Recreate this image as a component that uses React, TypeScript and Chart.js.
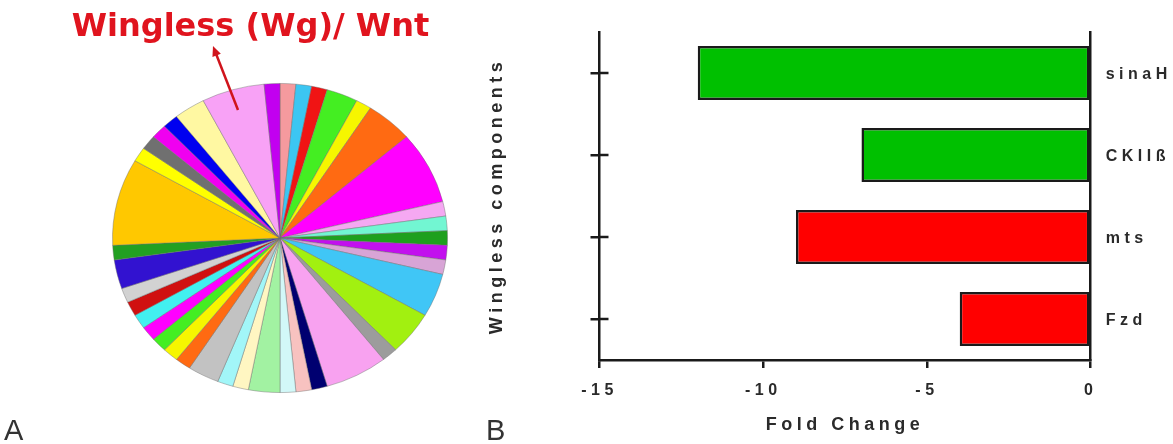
import React, { useEffect, useRef } from "react";
import { Chart, registerables } from "chart.js";

Chart.register(...registerables);

// ---------- Panel A: pie ----------
const pieTitle = "Wingless (Wg)/ Wnt";
const pieValues = [
  1, 1, 1, 2, 1, 3, 5, 1, 1, 1,
  1, 1, 3, 3, 1, 4, 1, 1, 1, 2,
  1, 1, 2, 1, 1, 1, 1, 1, 1, 1,
  2, 1, 6, 1, 1, 1, 1, 2, 4, 1,
];
const pieColors = [
  "#f59a9e", "#3cc6f2", "#f01414", "#44ee22", "#f6f600", "#ff6a12", "#ff00ff", "#f5a8f2", "#72f6d2", "#1ea01e",
  "#c210ee", "#d8a4d6", "#40c6f6", "#a2f010", "#9c9c9c", "#f8a2f0", "#000070", "#f8c2c0", "#d2f8f8", "#a2f2a2",
  "#fff6c2", "#a2f6f8", "#c2c2c2", "#ff6a12", "#f6f600", "#44ee22", "#ff00ff", "#42f0f0", "#d01010", "#d2d2d2",
  "#3212d0", "#22a022", "#ffc800", "#ffff00", "#707070", "#f000f0", "#0000f0", "#fff8a2", "#f8a2f6", "#c200f0",
];
const pieLabels = pieValues.map((_, i) => `Group ${i + 1}`);

// ---------- Panel B: bars ----------
const barCategories = ["sinaH", "CKIIß", "mts", "Fzd"];
const barValues = [-12, -7, -9, -4];
const barColors = ["#00c000", "#00c000", "#ff0000", "#ff0000"];
const xTicks = [-15, -10, -5, 0];
const xTitle = "Fold Change";
const yTitle = "Wingless components";
const panelLabels = ["A", "B"];

const AX = "#1a1a1a";
const TXT = "#2a2a2a";
const FAM = '"Liberation Sans", Arial, Helvetica, sans-serif';
const SPACING = "4.5px";

const ellipsePlugin = {
  id: "ellipse",
  beforeDatasetsDraw(chart: any) {
    const { ctx, chartArea: a } = chart;
    const cx = (a.left + a.right) / 2;
    const cy = (a.top + a.bottom) / 2;
    ctx.save();
    ctx.translate(cx, cy);
    ctx.scale(1, 155 / 168);
    ctx.translate(-cx, -cy);
  },
  afterDatasetsDraw(chart: any) {
    chart.ctx.restore();
  },
};

const arrowPlugin = {
  id: "arrow",
  afterDraw(chart: any) {
    const ctx = chart.ctx;
    const x1 = 238, y1 = 110, x2 = 213, y2 = 46;
    const ang = Math.atan2(y2 - y1, x2 - x1);
    const headLen = 10, headW = 4.5;
    ctx.save();
    ctx.strokeStyle = "#d0141c";
    ctx.fillStyle = "#d0141c";
    ctx.lineWidth = 2.5;
    ctx.beginPath();
    ctx.moveTo(x1, y1);
    ctx.lineTo(x2 - Math.cos(ang) * headLen * 0.8, y2 - Math.sin(ang) * headLen * 0.8);
    ctx.stroke();
    const bx = x2 - Math.cos(ang) * headLen;
    const by = y2 - Math.sin(ang) * headLen;
    const px = -Math.sin(ang), py = Math.cos(ang);
    ctx.beginPath();
    ctx.moveTo(x2, y2);
    ctx.lineTo(bx + px * headW, by + py * headW);
    ctx.lineTo(bx - px * headW, by - py * headW);
    ctx.closePath();
    ctx.fill();
    ctx.restore();
  },
};

const spacingPlugin = {
  id: "spacing",
  beforeUpdate(c: any) { c.ctx.letterSpacing = SPACING; },
  beforeLayout(c: any) { c.ctx.letterSpacing = SPACING; },
  beforeDraw(c: any) { c.ctx.letterSpacing = SPACING; },
};

const innerTicksPlugin = {
  id: "innerTicks",
  afterDatasetsDraw(chart: any) {
    const s = chart.scales.yl;
    const ctx = chart.ctx;
    ctx.save();
    ctx.strokeStyle = AX;
    ctx.lineWidth = 2.5;
    s.ticks.forEach((_: any, i: number) => {
      const y = s.getPixelForTick(i);
      ctx.beginPath();
      ctx.moveTo(s.right, y);
      ctx.lineTo(s.right + 9, y);
      ctx.stroke();
    });
    ctx.restore();
  },
};

export default function App() {
  const pieRef = useRef<HTMLCanvasElement>(null);
  const barRef = useRef<HTMLCanvasElement>(null);

  useEffect(() => {
    const pie = new Chart(pieRef.current as HTMLCanvasElement, {
      type: "pie",
      data: {
        labels: pieLabels,
        datasets: [
          {
            data: pieValues,
            backgroundColor: pieColors,
            borderColor: "rgba(110,110,110,0.45)",
            borderWidth: 1,
            hoverOffset: 0,
            offset: 0,
          },
        ],
      },
      options: {
        responsive: false,
        animation: false,
        events: [],
        layout: { padding: { left: 71.7, right: 1.7, top: 0, bottom: 38 } },
        plugins: {
          legend: { display: false },
          tooltip: { enabled: false },
          title: {
            display: true,
            text: pieTitle,
            align: "start",
            color: "#e0141e",
            font: { family: '"DejaVu Sans", sans-serif', size: 32, weight: "bold", lineHeight: 1.2 },
            padding: { top: 8.8, bottom: 22.8 },
          },
        },
      } as any,
      plugins: [ellipsePlugin, arrowPlugin],
    });

    const bar = new Chart(barRef.current as HTMLCanvasElement, {
      type: "bar",
      data: {
        labels: barCategories,
        datasets: [
          {
            data: barValues,
            backgroundColor: barColors,
            borderColor: AX,
            borderWidth: 2.5,
            borderSkipped: false,
            barPercentage: 0.66,
            categoryPercentage: 1,
            xAxisID: "x",
            yAxisID: "y",
          },
        ],
      },
      options: {
        indexAxis: "y",
        responsive: false,
        animation: false,
        events: [],
        layout: { padding: { top: 32, left: 0, right: 0, bottom: 0 } },
        plugins: { legend: { display: false }, tooltip: { enabled: false } },
        scales: {
          x: {
            type: "linear",
            position: "bottom",
            min: -15,
            max: 0,
            afterBuildTicks: (s: any) => {
              s.ticks = xTicks.map((v) => ({ value: v }));
            },
            afterFit: (s: any) => {
              s.height = 84;
            },
            grid: { drawOnChartArea: false, drawTicks: true, tickLength: 8, color: AX, lineWidth: 2.5 },
            border: { display: true, color: AX, width: 2.5 },
            ticks: { color: TXT, font: { family: FAM, size: 16, weight: "bold" }, padding: 13.1 },
            title: {
              display: true,
              text: xTitle,
              color: TXT,
              font: { family: FAM, size: 18, weight: "bold" },
              padding: { top: 0, bottom: 8.2 },
            },
          },
          yl: {
            type: "category",
            position: "left",
            offset: true,
            afterFit: (s: any) => {
              s.width = 119.5;
            },
            grid: { offset: false, drawOnChartArea: false, drawTicks: true, tickLength: 9, color: AX, lineWidth: 2.5 },
            border: { display: true, color: AX, width: 2.5 },
            ticks: { display: false },
            title: {
              display: true,
              text: yTitle,
              color: TXT,
              font: { family: FAM, size: 18, weight: "bold" },
              padding: { top: 6.2, bottom: 0 },
            },
          },
          y: {
            type: "category",
            position: "right",
            offset: true,
            afterFit: (s: any) => {
              s.width = 82.3;
            },
            grid: { offset: false, drawOnChartArea: false, drawTicks: false },
            border: { display: true, color: AX, width: 2.5 },
            ticks: { color: TXT, font: { family: FAM, size: 16, weight: "bold" }, padding: 15, labelOffset: 2 },
          },
        },
      } as any,
      plugins: [spacingPlugin, innerTicksPlugin],
    });

    return () => {
      pie.destroy();
      bar.destroy();
    };
  }, []);

  const labelStyle: React.CSSProperties = {
    position: "absolute",
    top: 415.5,
    fontFamily: FAM,
    fontSize: 29,
    lineHeight: "29px",
    color: "#333",
  };

  return (
    <div style={{ position: "absolute", left: 0, top: 0, width: 1173, height: 444, background: "#fff", overflow: "hidden" }}>
      <canvas ref={pieRef} width={490} height={444} style={{ position: "absolute", left: 0, top: 0 }} />
      <canvas ref={barRef} width={693} height={444} style={{ position: "absolute", left: 480, top: 0 }} />
      <div style={{ ...labelStyle, left: 4 }}>{panelLabels[0]}</div>
      <div style={{ ...labelStyle, left: 486 }}>{panelLabels[1]}</div>
    </div>
  );
}
